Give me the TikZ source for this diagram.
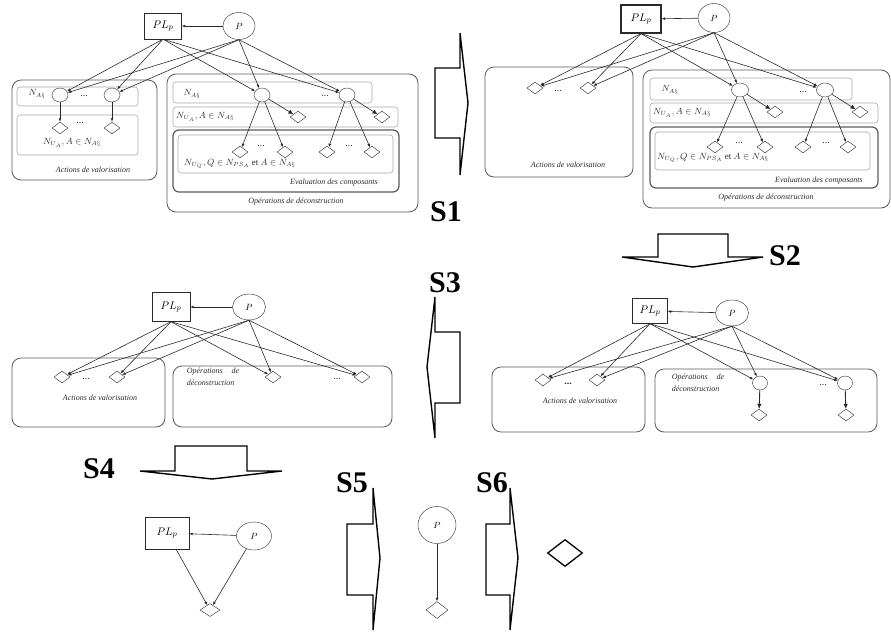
\documentclass[tikz,border=0pt]{standalone}
\usepackage{amsmath,amssymb}
\usepackage{fontspec}
\setmainfont{Liberation Serif}
\usepackage{tikz}
\usetikzlibrary{positioning,shapes.geometric,arrows.meta}

\definecolor{linegray}{HTML}{2A2A2A}
\definecolor{boxgray}{HTML}{5A5A5A}
\definecolor{rowgray}{HTML}{A8A8A8}

\begin{document}
\begin{tikzpicture}
  [x=1pt,y=-1pt,
   pl/.style={draw=linegray, rectangle, fill=white, inner sep=0pt, minimum width=37pt, minimum height=26pt, font=\fontsize{11}{12}\selectfont},
   pc/.style={draw=linegray, ellipse, fill=white, inner sep=0pt, minimum width=32pt, minimum height=27pt, font=\fontsize{9}{10}\selectfont},
   ov/.style={draw=linegray, ellipse, fill=white, inner sep=0pt, minimum width=16pt, minimum height=14pt},
   dm/.style={draw=linegray, diamond, fill=white, inner sep=0pt, minimum width=16pt, minimum height=12pt},
   lbl/.style={inner sep=0pt, text=linegray, font=\fontsize{8}{12}\selectfont\itshape},
   mth/.style={inner sep=0pt, text=linegray, font=\fontsize{9}{10}\selectfont},
   dt/.style={inner sep=0pt, text=linegray, font=\fontsize{10}{10}\selectfont},
   arr/.style={draw=linegray, line width=0.6pt, -{Latex[length=3.5pt,width=2.8pt]}},
   bigarr/.style={draw=linegray, line width=0.6pt, -{Latex[length=5pt,width=4.5pt]}},
   panel/.style={draw=boxgray, line width=0.8pt, rounded corners=9pt},
   row/.style={draw=rowgray, line width=0.6pt, rounded corners=3pt},
   evalbox/.style={draw=boxgray, line width=1.2pt, rounded corners=6pt},
   blk/.style={draw=black, line width=1.4pt, line join=miter},
   sl/.style={inner sep=0pt, font=\fontsize{30}{30}\selectfont\bfseries}]

  \useasboundingbox (0,0) rectangle (891,635);

  % --- top left: initial state
  \draw[panel] (12,80) rectangle (157,180);
  \draw[row] (17,87) rectangle (138,106);
  \draw[row] (17,115) rectangle (138,155);
  \draw[panel] (167,74) rectangle (418,212);
  \draw[row] (173,82) rectangle (372,103);
  \draw[row] (173,107) rectangle (398,127);
  \draw[evalbox] (173,130) rectangle (399,192);
  \draw[row] (178,135) rectangle (393,173);

  \node[pl] (aPL) at (163,26) {$PL_p$};
  \node[pc] (aP) at (239,26) {$P$};
  \node[mth] (aNA) at (37,94) {$N_{A\S}$};
  \node[ov] (aO1) at (60,95) {};
  \node[ov] (aO2) at (112,95) {};
  \node[dt] (aDt1) at (84,96) {...};
  \node[dm] (aD1) at (60,128) {};
  \node[dm] (aD2) at (112,128) {};
  \node[dt] (aDt2) at (80,123) {...};
  \node[mth] (aNU) at (72,143) {$N_{U_A}, A \in N_{A\S}$};
  \node[lbl] (aAV) at (93,170) {Actions de valorisation};
  \node[mth] (aNA2) at (192,94) {$N_{A\S}$};
  \node[ov] (aO3) at (262,95) {};
  \node[ov] (aO4) at (347,95) {};
  \node[dt] (aDt3) at (325,96) {...};
  \node[mth, anchor=west] (aNU2) at (176,117) {$N_{U_A}, A \in N_{A\S}$};
  \node[dm] (aE1) at (298,117) {};
  \node[dm] (aE2) at (382,117) {};
  \node[dm] (aF1) at (240,152) {};
  \node[dm] (aF2) at (285,152) {};
  \node[dm] (aF3) at (327,152) {};
  \node[dm] (aF4) at (372,152) {};
  \node[dt] (aDt4) at (261,146) {...};
  \node[dt] (aDt5) at (349,146) {...};
  \node[mth, anchor=west] (aNQ) at (184,164) {$N_{U_Q}, Q \in N_{PS_A}$ et $A \in N_{A\S}$};
  \node[lbl] (aEC) at (334,183) {Evaluation des composants};
  \node[lbl] (aOD) at (296,202) {Opérations de déconstruction};

  \draw[arr] (aP) -- (aPL);
  \foreach \from/\to in {aPL.south/aO1, aPL.south/aO2, aPL.south/aO3, aPL.south/aO4,
                         aP.south/aO1, aP.south/aO2, aP.south/aO3, aP.south/aO4,
                         aO1/aD1, aO2/aD2, aO3/aF1, aO3/aF2, aO4/aF3, aO4/aF4}
    \draw[arr] (\from) -- (\to);
  \draw[bigarr] (aO3) -- (aE1);
  \draw[bigarr] (aO4) -- (aE2);

  % --- top right: after S1
  \draw[panel] (485,67) rectangle (633,177);
  \draw[panel] (643,70) rectangle (890,208);
  \draw[row] (650,78) rectangle (852,100);
  \draw[row] (650,103) rectangle (878,123);
  \draw[evalbox] (650,127) rectangle (878,188);
  \draw[row] (655,132) rectangle (870,170);

  \node[pl, line width=1.2pt, minimum width=40pt, minimum height=28pt] (bPL) at (641,19) {$PL_p$};
  \node[pc, minimum height=29pt] (bP) at (714,18) {$P$};
  \node[dm] (bD1) at (535,88) {};
  \node[dm] (bD2) at (588,88) {};
  \node[dt] (bDt1) at (558,91) {...};
  \node[lbl] (bAV) at (568,165) {Actions de valorisation};
  \node[mth] (bNA) at (670,90) {$N_{A\S}$};
  \node[ov, minimum width=17pt, minimum height=14pt] (bO1) at (740,90) {};
  \node[ov, minimum width=17pt, minimum height=14pt] (bO2) at (825,90) {};
  \node[dt] (bDt2) at (803,92) {...};
  \node[mth, anchor=west] (bNU) at (653,113) {$N_{U_A}, A \in N_{A\S}$};
  \node[dm] (bE1) at (775,112) {};
  \node[dm] (bE2) at (860,112) {};
  \node[dm] (bF1) at (715,147) {};
  \node[dm] (bF2) at (765,147) {};
  \node[dm] (bF3) at (803,147) {};
  \node[dm] (bF4) at (848,147) {};
  \node[dt] (bDt3) at (739,143) {...};
  \node[dt] (bDt4) at (826,143) {...};
  \node[mth, anchor=west] (bNQ) at (657,158) {$N_{U_Q}, Q \in N_{PS_A}$ et $A \in N_{A\S}$};
  \node[lbl] (bEC) at (819,181) {Evaluation des composants};
  \node[lbl] (bOD) at (766,198) {Opérations de déconstruction};

  \draw[arr] (bP) -- (bPL);
  \foreach \from/\to in {bPL.south/bD1, bPL.south/bD2, bPL.south/bO1, bPL.south/bO2,
                         bP.south/bD1, bP.south/bD2, bP.south/bO1, bP.south/bO2,
                         bO1/bF1, bO1/bF2, bO2/bF3, bO2/bF4}
    \draw[arr] (\from) -- (\to);
  \draw[bigarr] (bO1) -- (bE1);
  \draw[bigarr] (bO2) -- (bE2);

  % --- middle right: after S2
  \draw[panel] (492,367) rectangle (645,432);
  \draw[panel] (655,369) rectangle (877,432);

  \node[pl, minimum width=35pt, minimum height=25pt] (cPL) at (650,311) {$PL_p$};
  \node[pc, minimum width=33pt, minimum height=26pt] (cP) at (732,313) {$P$};
  \node[dm] (cD1) at (543,380) {};
  \node[dm] (cD2) at (597,380) {};
  \node[dt, font=\fontsize{10}{10}\selectfont\bfseries] (cDt1) at (568,384) {...};
  \node[lbl] (cAV) at (580,401) {Actions de valorisation};
  \node[lbl, align=left] (cOD) at (698,383) {Opérations\hspace{1.1em}de\\déconstruction};
  \node[ov, minimum width=15pt] (cO1) at (760,383) {};
  \node[ov, minimum width=15pt] (cO2) at (845,383) {};
  \node[dt] (cDt2) at (823,385) {...};
  \node[dm] (cE1) at (759,415) {};
  \node[dm] (cE2) at (846,415) {};

  \draw[arr] (cP) -- (cPL);
  \foreach \from/\to in {cPL.south/cD1, cPL.south/cD2, cPL.south/cO1, cPL.south/cO2,
                         cP.south/cD1, cP.south/cD2, cP.south/cO1, cP.south/cO2}
    \draw[arr] (\from) -- (\to);
  \draw[bigarr, line width=0.9pt] (cO1) -- (cE1);
  \draw[bigarr, line width=0.9pt] (cO2) -- (cE2);

  % --- middle left: after S3
  \draw[panel] (12,358) rectangle (165,427);
  \draw[panel] (173,366) rectangle (392,427);

  \node[pl, minimum width=38pt, minimum height=29pt] (dPL) at (171,307) {$PL_p$};
  \node[pc, minimum width=33pt, minimum height=26pt] (dP) at (249,307) {$P$};
  \node[dm] (dD1) at (62,377) {};
  \node[dm] (dD2) at (117,377) {};
  \node[dm] (dD3) at (273,377) {};
  \node[dm] (dD4) at (362,377) {};
  \node[dt] (dDt1) at (86,379) {...};
  \node[dt] (dDt2) at (337,379) {...};
  \node[lbl] (dAV) at (100,398) {Actions de valorisation};
  \node[lbl, align=left] (dOD) at (213,377) {Opérations\hspace{1.1em}de\\déconstruction};

  \draw[arr] (dP) -- (dPL);
  \foreach \from/\to in {dPL.south/dD1, dPL.south/dD2, dPL.south/dD3, dPL.south/dD4,
                         dP.south/dD1, dP.south/dD2, dP.south/dD3, dP.south/dD4}
    \draw[arr] (\from) -- (\to);

  % --- bottom: after S4, S5, S6
  \node[pl, minimum width=44pt, minimum height=32pt] (ePL) at (167,533) {$PL_p$};
  \node[pc, minimum width=35pt, minimum height=28pt] (eP) at (254,536) {$P$};
  \node[dm, minimum width=20pt, minimum height=13pt] (eD) at (210,610) {};
  \draw[arr] (eP) -- (ePL);
  \draw[arr] (ePL) -- (eD);
  \draw[arr] (eP) -- (eD);

  \node[pc, minimum width=38pt, minimum height=37pt] (fP) at (437,525) {$P$};
  \node[dm, minimum width=22pt, minimum height=17pt] (fD) at (437,610) {};
  \draw[arr] (fP) -- (fD);

  \node[dm, draw=black, line width=1.3pt, minimum width=35pt, minimum height=27pt] (gD) at (565,553) {};

  % --- step arrows
  \draw[blk] (435,68) -- (460,68) -- (460,33) -- (468,103) -- (460,175) -- (460,138) -- (435,138) -- cycle;
  \draw[blk] (658,257) -- (658,234) -- (728,234) -- (728,257) -- (763,257) -- (693,267) -- (622,257) -- cycle;
  \draw[blk] (460,332) -- (435,332) -- (435,297) -- (427,367) -- (435,438) -- (435,403) -- (460,403) -- cycle;
  \draw[blk] (175,471) -- (175,446) -- (247,446) -- (247,471) -- (282,471) -- (212,479) -- (140,471) -- cycle;
  \draw[blk] (347,524) -- (373,524) -- (373,488) -- (380,558) -- (373,630) -- (373,595) -- (347,595) -- cycle;
  \draw[blk] (486,524) -- (510,524) -- (510,488) -- (518,558) -- (510,630) -- (510,595) -- (486,595) -- cycle;

  \node[sl] (s1) at (446,212) {S1};
  \node[sl] (s2) at (785,256) {S2};
  \node[sl] (s3) at (445,283) {S3};
  \node[sl] (s4) at (99,469) {S4};
  \node[sl] (s5) at (352,483) {S5};
  \node[sl] (s6) at (492,483) {S6};
\end{tikzpicture}
\end{document}
